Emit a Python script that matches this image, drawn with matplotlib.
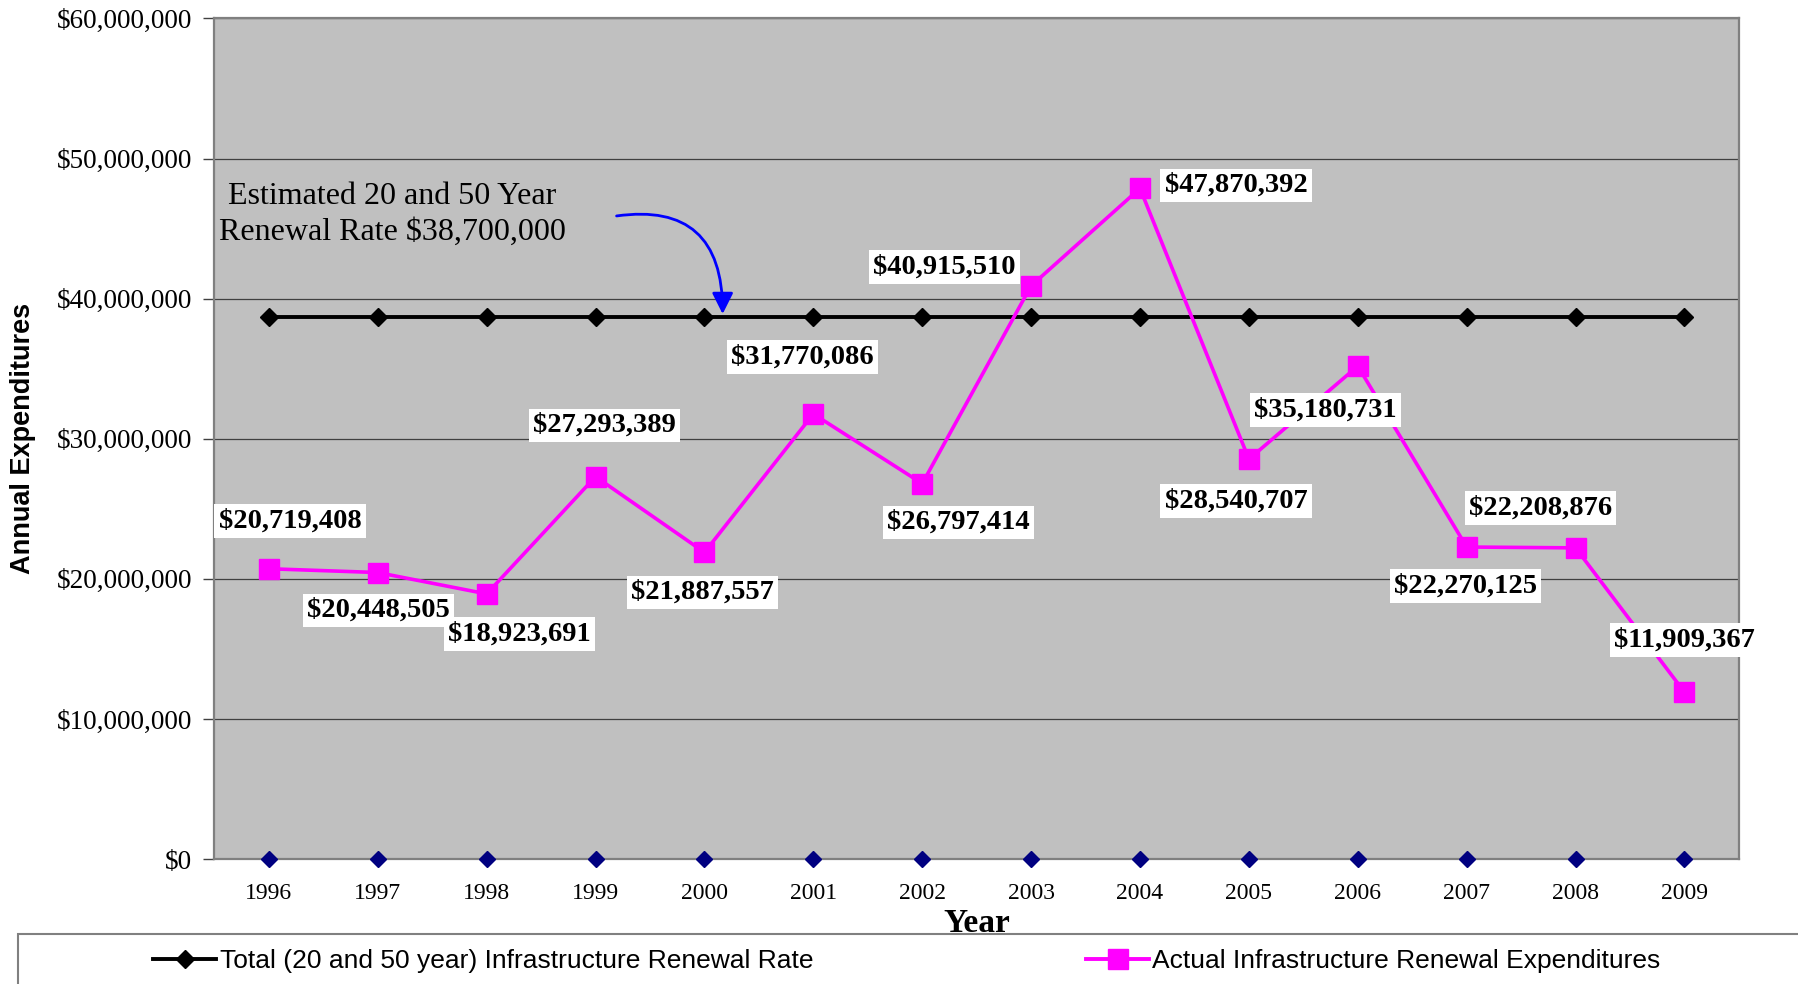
import matplotlib
matplotlib.use('Agg')
import matplotlib.pyplot as plt
from matplotlib.patches import Rectangle
from matplotlib.lines import Line2D
from matplotlib.ticker import FuncFormatter

years = ['1996', '1997', '1998', '1999', '2000', '2001', '2002',
         '2003', '2004', '2005', '2006', '2007', '2008', '2009']
renewal_rate = [38700000, 38700000, 38700000, 38700000, 38700000, 38700000, 38700000,
                38700000, 38700000, 38700000, 38700000, 38700000, 38700000, 38700000]
actual_spend = [20719408, 20448505, 18923691, 27293389, 21887557, 31770086, 26797414,
                40915510, 47870392, 28540707, 35180731, 22270125, 22208876, 11909367]
zero_series = [0, 0, 0, 0, 0, 0, 0, 0, 0, 0, 0, 0, 0, 0]

rate_label = 'Total (20 and 50 year) Infrastructure Renewal Rate'
spend_label = 'Actual Infrastructure Renewal Expenditures'
note_text = 'Estimated 20 and 50 Year\nRenewal Rate $38,700,000'

# where each value box sits relative to its point (pixels)
label_offsets = [(21, 48), (1, -38), (33, -40), (9, 51), (-2, -40), (-11, 57), (36, -39),
                 (-87, 19), (96, 3), (-13, -42), (-32, -44), (-1, -39), (-35, 40), (0, 52)]

SERIF = 'Liberation Serif'
SANS = 'Liberation Sans'

fig = plt.figure(figsize=(17.99, 9.84), dpi=100)
ax = fig.add_axes([0.1192, 0.1270, 0.8474, 0.8543])
ax.set_facecolor('#C0C0C0')

x = list(range(len(years)))

ax.plot(x, renewal_rate, color='black', lw=2.8, marker='D', ms=9.5, zorder=4)
ax.plot(x, actual_spend, color='#FF00FF', lw=2.6, marker='s', ms=14.5, zorder=5)
ax.plot(x, zero_series, color='#000080', lw=0, marker='D', ms=8.5, clip_on=False, zorder=6)

for i, v in enumerate(actual_spend):
    ax.annotate('${:,}'.format(v), xy=(i, v), xytext=label_offsets[i],
                textcoords='offset pixels', ha='center', va='center',
                fontsize=20.5, fontweight='bold', family=SERIF, zorder=7,
                bbox=dict(boxstyle='square,pad=0.15', fc='white', ec='none'))

# note and curved arrow
ax.text(1.134, 46.0e6, note_text, ha='center', va='center', fontsize=23,
        family=SERIF, linespacing=1.3, zorder=7)
ax.annotate('', xy=(4.167, 38.9e6), xytext=(3.193, 45.9e6),
            arrowprops=dict(arrowstyle='-|>', color='#0000FF', lw=2,
                            connectionstyle='angle3,angleA=8,angleB=90',
                            mutation_scale=32, shrinkA=0, shrinkB=0), zorder=7)

ax.set_xlim(-0.5, len(years) - 0.5)
ax.set_ylim(0, 60e6)
ax.set_yticks([0, 10e6, 20e6, 30e6, 40e6, 50e6, 60e6])
ax.yaxis.set_major_formatter(FuncFormatter(lambda v, p: '${:,.0f}'.format(v)))
ax.set_xticks(x)
ax.set_xticklabels(years)
ax.grid(axis='y', color='#404040', lw=0.9, zorder=1)
ax.set_axisbelow(True)

ax.tick_params(axis='y', length=8, width=1, color='#404040', pad=8, labelsize=19.5)
ax.tick_params(axis='x', length=0, pad=17, labelsize=17)
for lab in ax.get_xticklabels() + ax.get_yticklabels():
    lab.set_family(SERIF)

for s in ax.spines.values():
    s.set_color('#808080')
    s.set_linewidth(1.6)

ax.set_xlabel('Year', fontsize=24, fontweight='bold', family=SERIF, labelpad=3)
ax.set_ylabel('Annual Expenditures', fontsize=19.5, fontweight='bold', family=SANS)
ax.yaxis.set_label_coords(-0.117, 0.5)

# legend box runs off the right and bottom edges
fig.add_artist(Rectangle((18 / 1799, -0.1), 1.2, 0.1 + 1 - 934 / 984,
                         transform=fig.transFigure, fill=False,
                         edgecolor='#808080', lw=1.5))
h1 = Line2D([], [], color='black', lw=2.8, marker='D', ms=9.5)
h2 = Line2D([], [], color='#FF00FF', lw=2.8, marker='s', ms=14.5)
leg_y = 1 - 961 / 984
fig.legend([h1], [rate_label], loc='center left', bbox_to_anchor=(153 / 1799, leg_y),
           frameon=False, handlelength=2.4, handletextpad=0.12, borderpad=0, borderaxespad=0,
           prop={'family': SANS, 'size': 19})
fig.legend([h2], [spend_label], loc='center left', bbox_to_anchor=(1086 / 1799, leg_y),
           frameon=False, handlelength=2.4, handletextpad=0.12, borderpad=0, borderaxespad=0,
           prop={'family': SANS, 'size': 19})

fig.savefig('out.png', dpi=100)
